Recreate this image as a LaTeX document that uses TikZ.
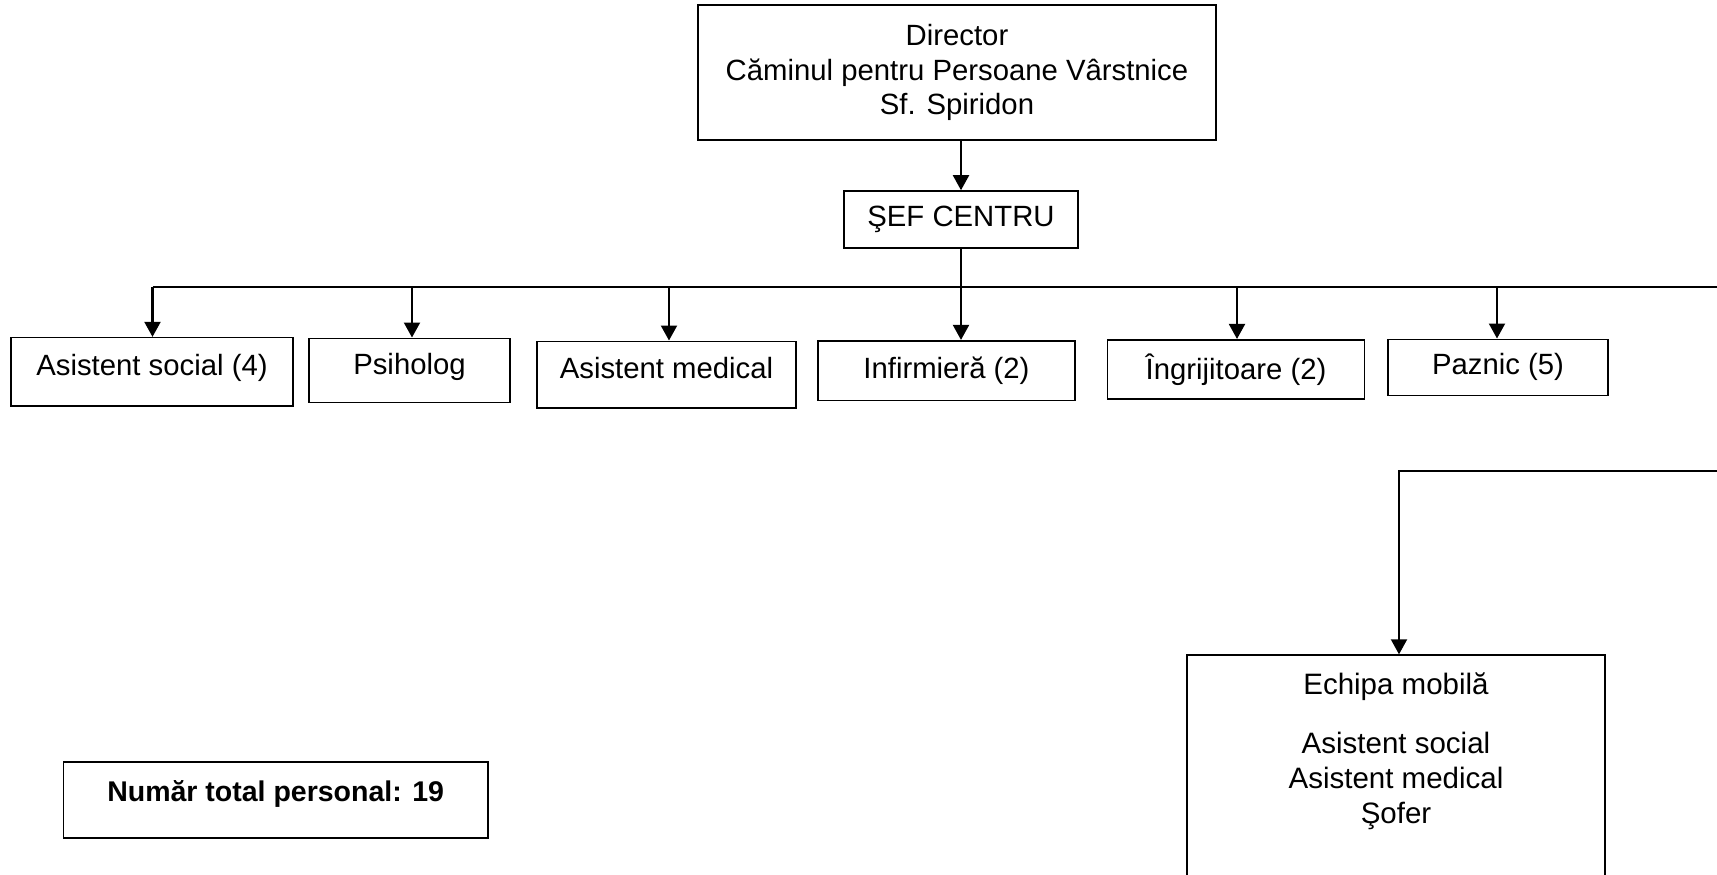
\documentclass[tikz,border=0pt]{standalone}
\usepackage{fontspec}
\setmainfont{Liberation Sans}
\usetikzlibrary{arrows.meta}
\begin{document}
\begin{tikzpicture}[x=1pt,y=-1pt,
  box/.style={draw, line width=1.6pt, inner sep=0pt, align=center, font=\fontsize{29.3}{34.5}\selectfont},
  up/.style={text height=21pt, text depth=13pt},
  txt/.style={inner sep=0pt, align=center, font=\fontsize{29.5}{35}\selectfont},
  arr/.style={line width=2.1pt, -{Triangle[length=15pt,width=16pt]}},
  ln/.style={line width=2.1pt}]
\useasboundingbox (0,0) rectangle (1717,875);
\clip (0,0) rectangle (1717,875);
% boxes
\node[box, minimum width=518pt, minimum height=135pt] (dir) at (957,72.5) {Director\\Căminul pentru Persoane Vârstnice\\Sf. Spiridon};
\node[box, minimum width=234pt, minimum height=57pt] (sef) at (961,219.5) {ŞEF CENTRU};
\node[box, up, minimum width=282pt, minimum height=68.3pt] (as) at (152,371.8) {Asistent social (4)};
\node[box, up, minimum width=201pt, minimum height=64pt] (psi) at (409.5,370.3) {Psiholog};
\node[box, up, minimum width=259pt, minimum height=66.4pt] (am) at (666.5,374.5) {Asistent medical};
\node[box, minimum width=257pt, minimum height=59.6pt] (inf) at (946.5,370.5) {Infirmieră (2)};
\node[box, minimum width=257pt, minimum height=59.3pt] (ingr) at (1236,369.4) {Îngrijitoare (2)};
\node[box, minimum width=220pt, minimum height=56pt] (paz) at (1498,367.3) {Paznic (5)};
\node[box, anchor=north, minimum width=418pt, minimum height=300pt] (echipa) at (1396,654.3) {};
\node[txt, anchor=base] (echtitle) at (1396,694) {Echipa mobilă};
\node[txt] (echlist) at (1396,780.5) {Asistent social\\Asistent medical\\Şofer};
\node[box, font=\bfseries\fontsize{28.5}{32}\selectfont, minimum width=424.5pt, text height=39.7pt, text depth=36.3pt] (total) at (275.7,800) {Număr total personal: 19};
% bus coordinates
\coordinate (bus) at (961,287.3);
\coordinate (bl) at (152.5,287.3);
\coordinate (br) at (1740,287.3);
\coordinate (er) at (1740,471);
\coordinate (el) at (1399,471);
\coordinate (b1) at (152.5,287.3);
\coordinate (b2) at (412,287.3);
\coordinate (b3) at (669,287.3);
\coordinate (b4) at (961,287.3);
\coordinate (b5) at (1237,287.3);
\coordinate (b6) at (1497,287.3);
% connectors
\draw[arr] (sef.north |- dir.south) -- (sef.north);
\draw[ln] (sef.south) -- (bus);
\draw[ln] (bl) -- (br);
\draw[arr] (br) -- (er) -- (el) -- (el |- echipa.north);
\draw[arr] (b1) -- (b1 |- as.north);
\draw[arr] (b2) -- (b2 |- psi.north);
\draw[arr] (b3) -- (b3 |- am.north);
\draw[arr] (b4) -- (b4 |- inf.north);
\draw[arr] (b5) -- (b5 |- ingr.north);
\draw[arr] (b6) -- (b6 |- paz.north);
\end{tikzpicture}
\end{document}
